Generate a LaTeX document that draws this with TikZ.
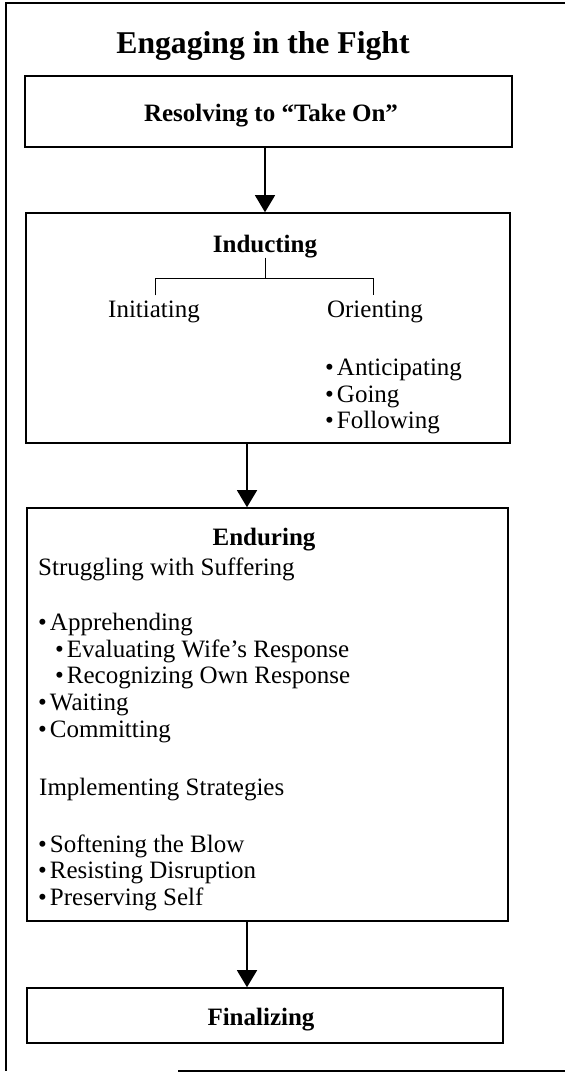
\documentclass[tikz,border=0pt]{standalone}
\usepackage{fontspec}
\setmainfont{Liberation Serif}
\usetikzlibrary{arrows.meta}
\newcommand\itemdot{\textbullet\hspace{3pt}}
\begin{document}
\begin{tikzpicture}[x=1pt,y=-1pt,
  frame/.style={draw=black,line width=1.5pt},
  stagebox/.style={draw=black,line width=1.6pt,inner sep=0pt},
  txt/.style={inner sep=0pt,font=\fontsize{25}{30}\selectfont},
  head/.style={inner sep=0pt,anchor=base,font=\fontsize{25}{30}\selectfont\bfseries},
  item/.style={txt,anchor=base west},
  flow/.style={draw=black,line width=1.4pt,-{Triangle[width=20pt,length=17pt]}},
  branch/.style={draw=black,line width=1pt}]
\useasboundingbox (0,0) rectangle (565,1074);

% outer frame: open on the right, bottom rule starts part way along
\draw[frame] (580,3) -- (6,3) -- (6,1071);
\draw[frame] (178,1071) -- (580,1071);

\node[inner sep=0pt,anchor=base,font=\fontsize{31.7}{38}\selectfont\bfseries] (title) at (263,53) {Engaging in the Fight};

% stage boxes
\node[stagebox,minimum width=487pt,minimum height=71pt] (b1) at (268.5,111.5) {};
\node[stagebox,minimum width=484pt,minimum height=230pt] (b2) at (268,328) {};
\node[stagebox,minimum width=481pt,minimum height=413pt] (b3) at (267.5,714.5) {};
\node[stagebox,minimum width=476pt,minimum height=55pt] (b4) at (265,1015.5) {};

% box 1
\node[head] (res) at (271,121) {Resolving to “Take On”};

% box 2
\node[head] (indt) at (265,252) {Inducting};
\node[txt,anchor=base] (ini) at (154,317) {Initiating};
\node[txt,anchor=base] (ori) at (375,317) {Orienting};
\node[item] (o1) at (325,375) {\itemdot Anticipating};
\node[item] (o2) at (325,402) {\itemdot Going};
\node[item] (o3) at (325,428) {\itemdot Following};
\coordinate (brL) at (155,278);
\coordinate (brR) at (373,278);
\draw[branch] (indt.south) -- (indt.south |- brL);
\draw[branch] ([yshift=5pt]brL |- ini.north) -- (brL) -- (brR) -- ([yshift=5pt]brR |- ori.north);

% box 3
\node[head] (end) at (264,545) {Enduring};
\node[item] (sws) at (38,575) {Struggling with Suffering};
\node[item] (e1) at (38,630) {\itemdot Apprehending};
\node[item] (e1a) at (55,657) {\itemdot Evaluating Wife’s Response};
\node[item] (e1b) at (55,683) {\itemdot Recognizing Own Response};
\node[item] (e2) at (38,710) {\itemdot Waiting};
\node[item] (e3) at (38,737) {\itemdot Committing};
\node[item] (imp) at (39,795) {Implementing Strategies};
\node[item] (s1) at (38,852) {\itemdot Softening the Blow};
\node[item] (s2) at (38,878) {\itemdot Resisting Disruption};
\node[item] (s3) at (38,905) {\itemdot Preserving Self};

% box 4
\node[head] (fin) at (261,1025) {Finalizing};

% flow arrows
\coordinate (c1) at (265,0);
\coordinate (c2) at (247,0);
\draw[flow] (b1.south -| c1) -- (b2.north -| c1);
\draw[flow] (b2.south -| c2) -- (b3.north -| c2);
\draw[flow] (b3.south -| c2) -- (b4.north -| c2);
\end{tikzpicture}
\end{document}
